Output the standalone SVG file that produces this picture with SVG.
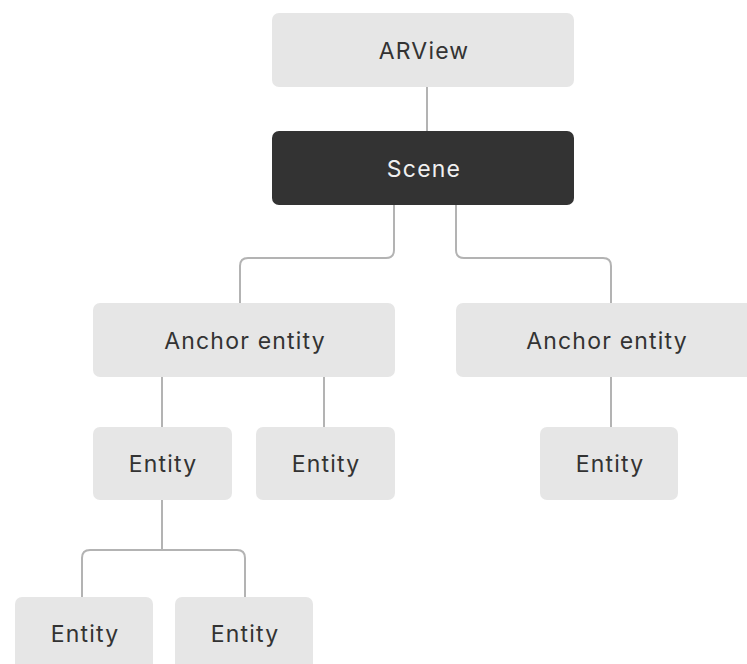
<svg xmlns="http://www.w3.org/2000/svg" width="747" height="664" viewBox="0 0 747 664">
<style>
.box{fill:#e6e6e6}
.dark{fill:#333333}
.t{font-family:Inter,"Liberation Sans",Arial,sans-serif;font-size:23px;letter-spacing:1.2px;fill:#333333;text-anchor:middle}
.tw{font-family:Inter,"Liberation Sans",Arial,sans-serif;font-size:23px;letter-spacing:1.2px;fill:#f0f0f0;text-anchor:middle}
.c{fill:none;stroke:#b3b3b3;stroke-width:2}
</style>
<rect width="747" height="664" fill="#ffffff"/>
<g id="connectors">
<path class="c" d="M427 87V131"/>
<path class="c" d="M394 205V250Q394 258 386 258H248Q240 258 240 266V303"/>
<path class="c" d="M456 205V250Q456 258 464 258H603Q611 258 611 266V303"/>
<path class="c" d="M162 377V427"/>
<path class="c" d="M324 377V427"/>
<path class="c" d="M611 377V427"/>
<path class="c" d="M162 500V550"/>
<path class="c" d="M162 550H90Q82 550 82 558V597"/>
<path class="c" d="M162 550H237Q245 550 245 558V597"/>
</g>
<g id="arview"><rect class="box" x="272" y="13" width="302" height="74" rx="7"/><text class="t" x="424" y="59">ARView</text></g>
<g id="scene"><rect class="dark" x="272" y="131" width="302" height="74" rx="7"/><text class="tw" x="424" y="177">Scene</text></g>
<g id="anchor1"><rect class="box" x="93" y="303" width="302" height="74" rx="7"/><text class="t" x="245" y="349">Anchor entity</text></g>
<g id="anchor2"><rect class="box" x="456" y="303" width="302" height="74" rx="7"/><text class="t" x="607" y="349">Anchor entity</text></g>
<g id="entity1"><rect class="box" x="93" y="427" width="139" height="73" rx="7"/><text class="t" x="163" y="472">Entity</text></g>
<g id="entity2"><rect class="box" x="256" y="427" width="139" height="73" rx="7"/><text class="t" x="326" y="472">Entity</text></g>
<g id="entity3"><rect class="box" x="540" y="427" width="138" height="73" rx="7"/><text class="t" x="610" y="472">Entity</text></g>
<g id="entity4"><rect class="box" x="15" y="597" width="138" height="74" rx="7"/><text class="t" x="85" y="642">Entity</text></g>
<g id="entity5"><rect class="box" x="175" y="597" width="138" height="74" rx="7"/><text class="t" x="245" y="642">Entity</text></g>
</svg>
